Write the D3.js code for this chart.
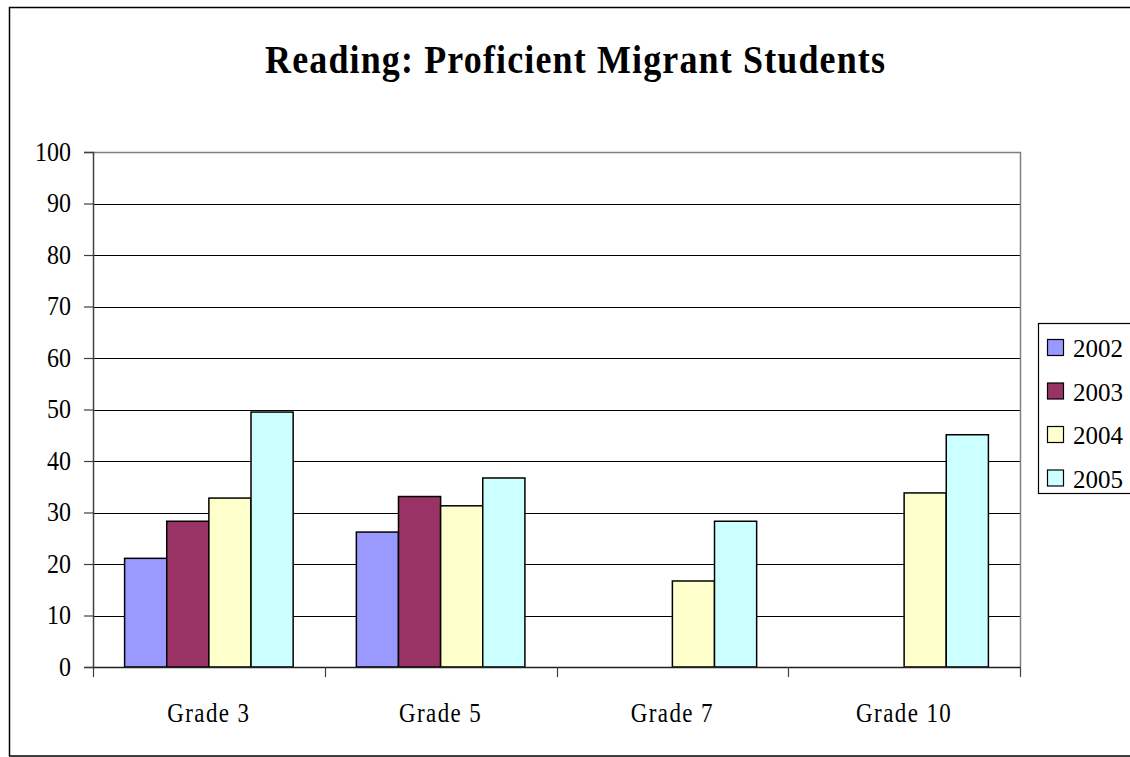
<!DOCTYPE html>
<html>
<head>
<meta charset="utf-8">
<script src="https://cdn.jsdelivr.net/npm/d3@7"></script>
<style>
  html, body { margin: 0; padding: 0; background: #fff; }
  svg { display: block; }
  text { font-family: "Liberation Serif", "Times New Roman", serif; fill: #000; }
</style>
</head>
<body>
<svg id="chart" width="1130" height="757"></svg>
<script>
const title = "Reading: Proficient Migrant Students";
const categories = ["Grade 3", "Grade 5", "Grade 7", "Grade 10"];
const seriesNames = ["2002", "2003", "2004", "2005"];
const values2002 = [21.1, 26.2, null, null];
const values2003 = [28.3, 33.1, null, null];
const values2004 = [32.8, 31.3, 16.7, 33.8];
const values2005 = [49.5, 36.7, 28.3, 45.1];
const yTicks = [0, 10, 20, 30, 40, 50, 60, 70, 80, 90, 100];
const colors = ["#9999FF", "#993366", "#FFFFCC", "#CCFFFF"];

const seriesValues = [values2002, values2003, values2004, values2005];

const svg = d3.select("#chart");
const plot = { left: 93, right: 1020, top: 152, bottom: 667 };

// outer frame
svg.append("rect")
  .attr("x", 9.5).attr("y", 7.5)
  .attr("width", 1140).attr("height", 748.5)
  .attr("fill", "#fff").attr("stroke", "#000").attr("stroke-width", 1.5);

// title
svg.append("text")
  .attr("transform", "translate(575,73) scale(1,1.12)")
  .attr("text-anchor", "middle")
  .attr("font-size", 36)
  .attr("font-weight", "bold")
  .attr("textLength", 620)
  .attr("lengthAdjust", "spacing")
  .text(title);

const x = d3.scaleBand().domain(categories).range([plot.left, plot.right]).paddingInner(0).paddingOuter(0);
const xs = d3.scaleBand().domain(seriesNames).range([0, x.bandwidth()]).paddingInner(0).paddingOuter(0.75);
const y = d3.scaleLinear().domain([0, 100]).range([plot.bottom, plot.top]);

// gridlines
svg.append("g").selectAll("line").data(yTicks.filter(d => d > 0 && d < 100)).join("line")
  .attr("x1", plot.left).attr("x2", plot.right)
  .attr("y1", d => Math.round(y(d)) + 0.5).attr("y2", d => Math.round(y(d)) + 0.5)
  .attr("stroke", "#000").attr("stroke-width", 1);

// plot area border (top & right)
svg.append("path")
  .attr("d", `M${plot.left},${Math.round(y(100)) + 0.5}H${plot.right + 0.5}V${plot.bottom}`)
  .attr("fill", "none").attr("stroke", "#808080").attr("stroke-width", 1.5);

// bars
const gBars = svg.append("g");
seriesNames.forEach((s, si) => {
  const data = categories.map((c, ci) => ({ c, v: seriesValues[si][ci] })).filter(d => d.v != null);
  gBars.selectAll(null).data(data).join("rect")
    .attr("x", d => x(d.c) + xs(s))
    .attr("y", d => y(d.v))
    .attr("width", xs.bandwidth())
    .attr("height", d => y(0) - y(d.v))
    .attr("fill", colors[si])
    .attr("stroke", "#000")
    .attr("stroke-width", 1.5);
});

// y axis
const yAxis = d3.axisLeft(y).tickValues(yTicks).tickSize(9).tickPadding(0).tickFormat(d3.format("d"));
const gy = svg.append("g").attr("transform", `translate(${plot.left},0)`).call(yAxis);
gy.select(".domain").attr("stroke", "#404040").attr("stroke-width", 1.5);
gy.selectAll(".tick line").attr("stroke", "#404040").attr("stroke-width", 1.2);
gy.selectAll(".tick text")
  .attr("x", null).attr("dy", null)
  .attr("font-family", "Liberation Serif, serif")
  .attr("font-size", 24)
  .attr("text-anchor", "end")
  .attr("transform", "translate(-22,8) scale(1,1.15)");

// x axis
const xTickScale = d3.scaleLinear().domain([0, categories.length]).range([plot.left, plot.right]);
const gx = svg.append("g").attr("transform", `translate(0,${plot.bottom})`);
gx.append("line").attr("x1", plot.left).attr("x2", plot.right)
  .attr("y1", 0.5).attr("y2", 0.5).attr("stroke", "#202020").attr("stroke-width", 1.5);
gx.selectAll("line.tk").data(d3.range(categories.length + 1)).join("line")
  .attr("class", "tk")
  .attr("x1", d => Math.round(xTickScale(d)) + 0.5).attr("x2", d => Math.round(xTickScale(d)) + 0.5)
  .attr("y1", 0).attr("y2", 10)
  .attr("stroke", "#404040").attr("stroke-width", 1.2);
gx.selectAll("text").data(categories).join("text")
  .attr("transform", d => `translate(${x(d) + x.bandwidth() / 2},55) scale(1,1.15)`)
  .attr("text-anchor", "middle")
  .attr("font-size", 23)
  .attr("letter-spacing", 1.4)
  .text(d => d);

// legend
const leg = svg.append("g").attr("transform", "translate(1038,323)");
leg.append("rect").attr("x", 0.5).attr("y", 0.5).attr("width", 120).attr("height", 170)
  .attr("fill", "#fff").attr("stroke", "#000").attr("stroke-width", 1.2);
const li = leg.selectAll("g.item").data(seriesNames).join("g")
  .attr("class", "item")
  .attr("transform", (d, i) => `translate(0,${25 + i * 43.5})`);
li.append("rect").attr("x", 9.5).attr("y", -8.5).attr("width", 16).attr("height", 16)
  .attr("fill", (d, i) => colors[i]).attr("stroke", "#000").attr("stroke-width", 1.2);
li.append("text").attr("x", 35).attr("y", 9)
  .attr("font-size", 25)
  .text(d => d);
</script>
</body>
</html>
